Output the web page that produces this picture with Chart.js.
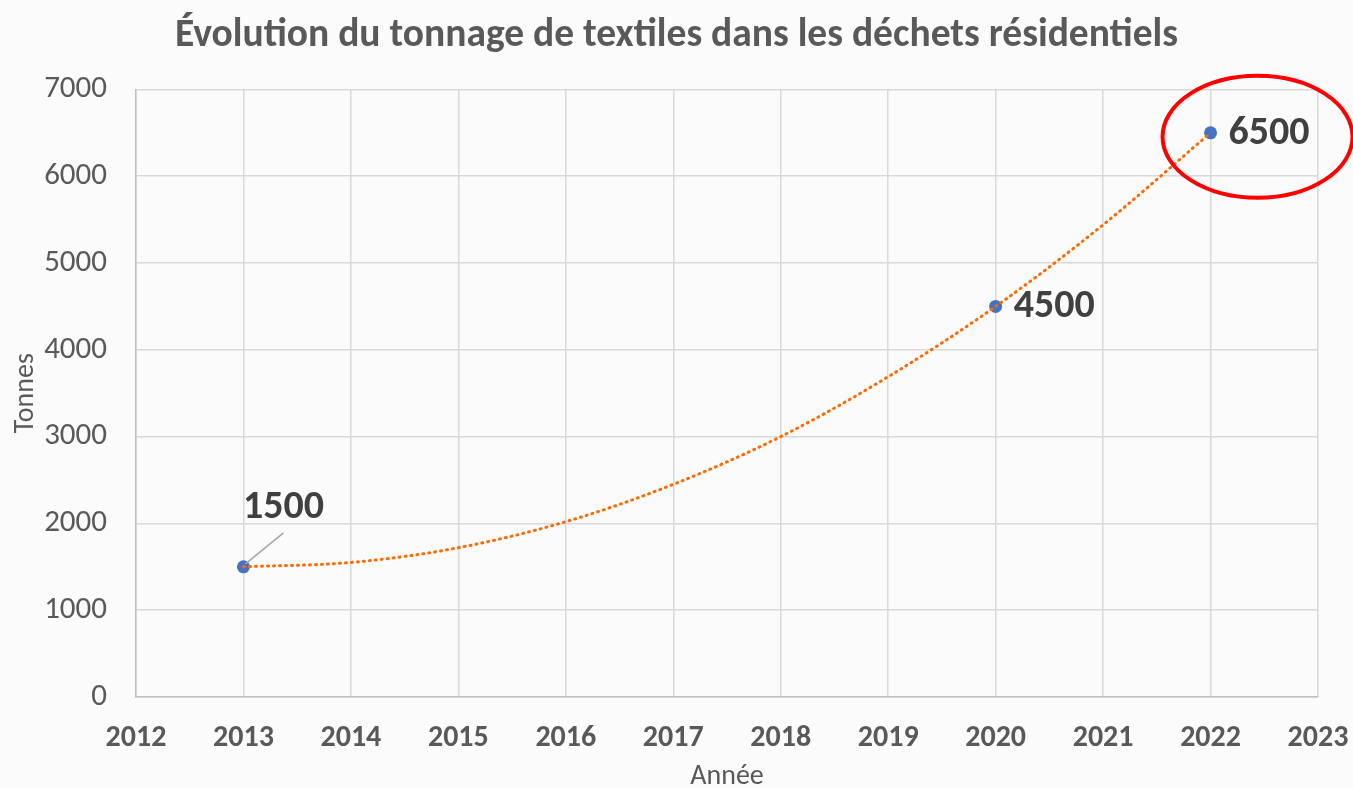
<!DOCTYPE html>
<html>
<head>
<meta charset="utf-8">
<script src="https://cdn.jsdelivr.net/npm/chart.js@4/dist/chart.umd.min.js"></script>
<style>
    html, body { margin: 0; padding: 0; background: #fbfbfb; }
    #wrap { width: 1353px; height: 788px; }
</style>
</head>
<body>
<div id="wrap"><canvas id="chart" width="1353" height="788"></canvas></div>
<script>
// measured points
const years = [2013, 2020, 2022];
const tonnes = [1500, 4500, 6500];

// dotted trend curve
const trendYears = [2013, 2014, 2015, 2016, 2017, 2018, 2019, 2020, 2021, 2022];
const trendTonnes = [1500, 1550, 1720, 2020, 2450, 3000, 3690, 4500, 5440, 6500];

const chartTitle = 'Évolution du tonnage de textiles dans les déchets résidentiels';
const xTitle = 'Année';
const yTitle = 'Tonnes';

const FONT = 'Carlito, Lato, sans-serif';

/**
 * Fills the page background behind the chart.
 */
const background = {
    id: 'background',
    beforeDraw: (chart) => {
        const ctx = chart.ctx;
        ctx.save();
        ctx.fillStyle = '#fbfbfb';
        ctx.fillRect(0, 0, chart.width, chart.height);
        ctx.restore();
    }
};

/**
 * Draws the value labels, the leader line for 1500 and the red ring round 6500.
 */
const valueLabels = {
    id: 'valueLabels',
    afterDatasetsDraw: (chart) => {
        const ctx = chart.ctx;
        const meta = chart.getDatasetMeta(1);
        ctx.save();
        ctx.font = 'bold 40px ' + FONT;
        ctx.fillStyle = '#404040';
        ctx.textBaseline = 'middle';

        meta.data.forEach((pt, i) => {
            const label = String(tonnes[i]);
            if (i === 0) {
                ctx.textAlign = 'center';
                ctx.fillText(label, pt.x + 40, pt.y - 59);
                ctx.strokeStyle = '#a6a6a6';
                ctx.lineWidth = 1.5;
                ctx.beginPath();
                ctx.moveTo(pt.x + 40, pt.y - 34);
                ctx.lineTo(pt.x + 2, pt.y - 3);
                ctx.stroke();
            } else {
                ctx.textAlign = 'left';
                ctx.fillText(label, pt.x + 18, pt.y + 1);
            }
        });

        const last = meta.data[meta.data.length - 1];
        ctx.strokeStyle = '#ff0000';
        ctx.lineWidth = 4;
        ctx.beginPath();
        ctx.ellipse(last.x + 47, last.y + 4, 95, 61, 0, 0, Math.PI * 2);
        ctx.stroke();
        ctx.restore();
    }
};

new Chart(document.getElementById('chart'), {
    type: 'scatter',
    data: {
        datasets: [{
            label: 'Tendance',
            data: trendYears.map((x, i) => ({ x, y: trendTonnes[i] })),
            showLine: true,
            borderColor: '#ff6a00',
            borderWidth: 3,
            borderDash: [1, 5],
            borderCapStyle: 'round',
            cubicInterpolationMode: 'monotone',
            pointRadius: 0,
            fill: false
        }, {
            label: 'Tonnes',
            data: years.map((x, i) => ({ x, y: tonnes[i] })),
            pointRadius: 6.5,
            pointBackgroundColor: '#4472c4',
            pointBorderColor: '#4472c4',
            pointBorderWidth: 0
        }]
    },
    options: {
        responsive: false,
        animation: false,
        layout: { padding: 0 },
        plugins: {
            legend: { display: false },
            tooltip: { enabled: false },
            title: {
                display: true,
                text: chartTitle,
                color: '#595959',
                font: { family: FONT, size: 39.5, weight: 'bold', lineHeight: 1.2 },
                padding: { top: 12, bottom: 30 }
            }
        },
        scales: {
            x: {
                type: 'linear',
                min: 2012,
                max: 2023,
                afterFit: (scale) => {
                    scale.height = 91;
                    scale.paddingLeft = 0;
                    scale.paddingRight = 35;
                },
                ticks: {
                    stepSize: 1,
                    padding: 23,
                    maxRotation: 0,
                    color: '#595959',
                    font: { family: FONT, size: 30, weight: 'bold', lineHeight: 1.2 },
                    callback: (v) => String(v)
                },
                grid: { color: '#d9d9d9', lineWidth: 1.5, drawTicks: false },
                border: { color: '#bfbfbf', width: 1.5 },
                title: {
                    display: true,
                    text: xTitle,
                    color: '#595959',
                    font: { family: FONT, size: 28, lineHeight: 0.8 },
                    padding: { top: 0, bottom: 0 }
                }
            },
            y: {
                min: 0,
                max: 7000,
                afterFit: (scale) => {
                    scale.width = 136;
                },
                ticks: {
                    stepSize: 1000,
                    padding: 29,
                    color: '#595959',
                    font: { family: FONT, size: 31 },
                    callback: (v) => String(v)
                },
                grid: { color: '#d9d9d9', lineWidth: 1.5, drawTicks: false },
                border: { color: '#bfbfbf', width: 1.5 },
                title: {
                    display: true,
                    text: yTitle,
                    color: '#595959',
                    font: { family: FONT, size: 28, lineHeight: 1.0 },
                    padding: { top: 12, bottom: 0 }
                }
            }
        }
    },
    plugins: [background, valueLabels]
});
</script>
</body>
</html>
